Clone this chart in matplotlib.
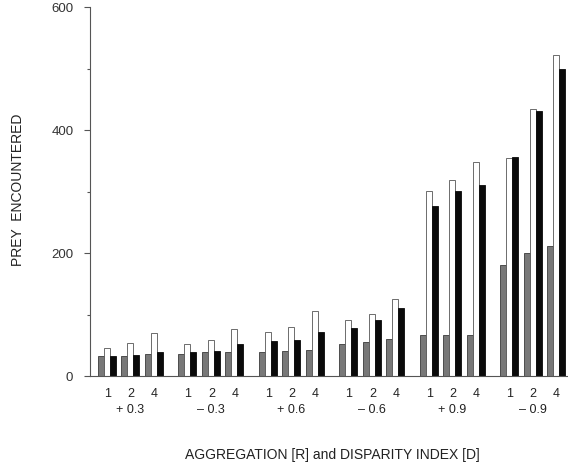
import numpy as np
import matplotlib
matplotlib.use("Agg")
import matplotlib.pyplot as plt

plt.rcParams["font.family"] = ["Liberation Sans", "DejaVu Sans"]

# disparity index groups and aggregation levels
disparity = ["+ 0.3", "\u2013 0.3", "+ 0.6", "\u2013 0.6", "+ 0.9", "\u2013 0.9"]
aggregation = ["1", "2", "4"]

# prey encountered, one row per disparity group, one column per aggregation level
gray_vals = [
    [34, 34, 37],
    [37, 39, 40],
    [40, 41, 43],
    [52, 56, 61],
    [67, 67, 67],
    [181, 200, 212],
]
white_vals = [
    [47, 55, 70],
    [52, 60, 77],
    [72, 80, 106],
    [91, 102, 126],
    [302, 319, 348],
    [355, 435, 523],
]
black_vals = [
    [34, 35, 39],
    [39, 42, 52],
    [57, 60, 72],
    [78, 91, 111],
    [277, 301, 311],
    [356, 432, 500],
]

series = [
    (np.array(gray_vals), "#787878", "#3a3a3a"),
    (np.array(white_vals), "#ffffff", "#555555"),
    (np.array(black_vals), "#0a0a0a", "#0a0a0a"),
]

group_step = 13.4
level_step = 3.9
bar_w = 1.0

fig = plt.figure(figsize=(5.68, 4.67), dpi=100)
ax = fig.add_axes([0.1585, 0.1938, 0.8415, 0.791])

n_groups = len(disparity)
n_levels = len(aggregation)
g_idx = np.repeat(np.arange(n_groups), n_levels)
l_idx = np.tile(np.arange(n_levels), n_groups)
base = g_idx * group_step + l_idx * level_step

for k, (vals, face, edge) in enumerate(series):
    ax.bar(base + k * bar_w, vals.flatten(), width=bar_w, align="edge",
           color=face, edgecolor=edge, linewidth=0.6)

ax.set_xlim(-1.33, 78.3)
ax.set_ylim(0, 600)

# level labels under each triplet
ax.set_xticks(base + 1.6 * bar_w)
ax.set_xticklabels(aggregation * n_groups, fontsize=9, color="#222222")
ax.tick_params(axis="x", length=0, pad=8)

# disparity labels under each group
for g, lab in enumerate(disparity):
    xc = g * group_step + (n_levels - 1) * level_step / 2 + 1.5 * bar_w
    ax.annotate(lab, xy=(xc, 0), xycoords=("data", "axes fraction"),
                xytext=(0, -24), textcoords="offset points",
                ha="center", va="center", fontsize=9, color="#222222",
                annotation_clip=False)

ax.set_yticks([0, 200, 400, 600])
ax.set_yticks([100, 300, 500], minor=True)
ax.tick_params(axis="y", which="major", length=4, width=0.8, pad=8,
               labelsize=9.5, labelcolor="#333333", color="#555555")
ax.tick_params(axis="y", which="minor", length=2, width=0.8, color="#555555")

for side in ["top", "right"]:
    ax.spines[side].set_visible(False)
for side in ["left", "bottom"]:
    ax.spines[side].set_color("#555555")
    ax.spines[side].set_linewidth(0.8)

fig.text(18 / 568, (467 - 190) / 467, "PREY  ENCOUNTERED", rotation=90,
         ha="center", va="center", fontsize=10, color="#222222")
fig.text(0.585, (467 - 455) / 467, "AGGREGATION [R] and DISPARITY INDEX [D]",
         ha="center", va="center", fontsize=10, color="#222222")

fig.savefig("out.png", dpi=100)
